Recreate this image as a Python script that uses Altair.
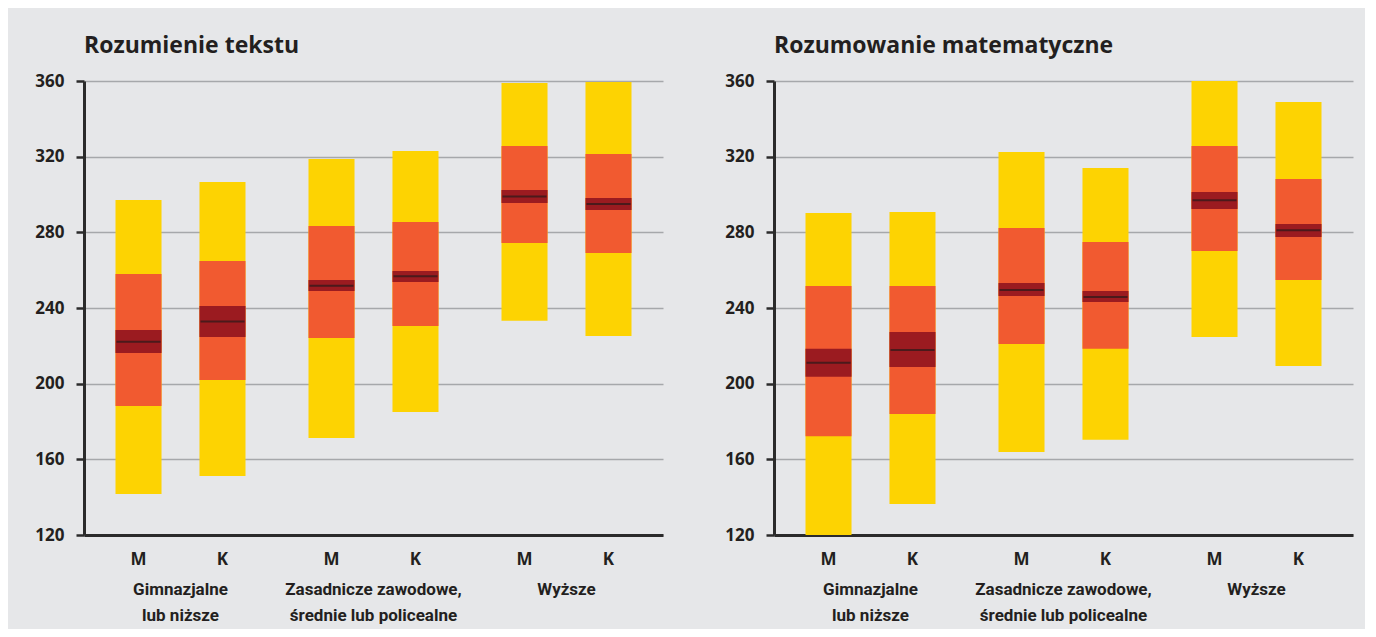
import altair as alt
import pandas as pd

groups = ["Gimnazjalne|lub niższe", "Zasadnicze zawodowe,|średnie lub policealne", "Wyższe"]
sexes = ["M", "K"]
bar_group = [groups[0], groups[0], groups[1], groups[1], groups[2], groups[2]]
bar_sex = ["M", "K", "M", "K", "M", "K"]

# Rozumienie tekstu
read_p5 = [141.7, 151.2, 171.3, 185.0, 233.2, 225.2]
read_p25 = [188.2, 202.0, 224.2, 230.5, 274.4, 269.1]
read_ci_lo = [216.2, 224.7, 249.0, 253.8, 295.5, 291.8]
read_mean = [222.2, 232.8, 251.8, 256.8, 299.0, 295.0]
read_ci_hi = [228.4, 241.1, 254.8, 259.6, 302.4, 298.2]
read_p75 = [258.0, 264.9, 283.4, 285.5, 325.6, 321.4]
read_p95 = [297.1, 306.6, 318.8, 323.0, 358.9, 359.5]

# Rozumowanie matematyczne
math_p5 = [120.0, 136.4, 163.9, 170.3, 224.7, 209.4]
math_p25 = [172.2, 184.0, 221.0, 218.4, 270.1, 254.8]
math_ci_lo = [203.6, 208.8, 246.4, 243.2, 292.3, 277.5]
math_mean = [211.0, 217.8, 249.5, 245.8, 296.9, 281.1]
math_ci_hi = [218.4, 227.3, 253.2, 249.0, 301.3, 284.4]
math_p75 = [251.6, 251.6, 282.3, 274.9, 325.6, 308.2]
math_p95 = [290.2, 290.8, 322.5, 314.0, 360.0, 348.9]

y_ticks = [120, 160, 200, 240, 280, 320, 360]

FONT = "Open Sans"
LABFONT = "Roboto"
YELLOW = "#FDD302"
ORANGE = "#F15A30"
DARKRED = "#9B1B20"
MEANC = "#2a1a1a"
BG = "#E6E7E9"

W, H = 579, 454


def panel(title, p5, p25, cilo, mean, cihi, p75, p95):
    df = pd.DataFrame({
        "group": bar_group, "sex": bar_sex,
        "p5": p5, "p25": p25, "cilo": cilo, "mean": mean,
        "cihi": cihi, "p75": p75, "p95": p95,
    })
    x = alt.X("group:N", sort=groups, title=None,
              scale=alt.Scale(paddingInner=0, paddingOuter=0),
              axis=alt.Axis(labelExpr="split(datum.label, '|')", labelAngle=0,
                            ticks=False, labelPadding=46, labelFontSize=17,
                            labelFont=LABFONT, labelFontWeight="bold",
                            labelColor="#231f20",
                            labelLineHeight=26, grid=False,
                            domainColor="#2b2b2b", domainWidth=3))
    xo = alt.XOffset("sex:N", sort=sexes,
                     scale=alt.Scale(paddingInner=0.452, paddingOuter=0.375))
    yscale = alt.Scale(domain=[120, 360], nice=False, zero=False)
    yaxis = alt.Axis(values=y_ticks, title=None, grid=True, gridColor="#a6a8ab",
                     gridWidth=1.5, domainColor="#2b2b2b", domainWidth=3,
                     tickColor="#2b2b2b", tickWidth=2.5, tickSize=8,
                     labelPadding=12, labelFontSize=17, labelFontWeight="bold",
                     labelFont=FONT, labelColor="#231f20")
    base = alt.Chart(df)
    yellow = base.mark_bar(color=YELLOW).encode(
        x=x, xOffset=xo, y=alt.Y("p5:Q", scale=yscale, axis=yaxis), y2="p95:Q")
    orange = base.mark_bar(color=ORANGE).encode(
        x=x, xOffset=xo, y="p25:Q", y2="p75:Q")
    dark = base.mark_bar(color=DARKRED).encode(
        x=x, xOffset=xo, y="cilo:Q", y2="cihi:Q")
    meanline = base.mark_tick(color=MEANC, thickness=2, size=44).encode(
        x=x, xOffset=xo, y="mean:Q")
    sexlab = base.mark_text(font=FONT, fontSize=17, fontWeight="bold",
                            color="#231f20", baseline="middle").encode(
        x=x, xOffset=xo, y=alt.value(H + 25), text="sex:N")
    return alt.layer(yellow, orange, dark, meanline, sexlab).properties(
        width=W, height=H,
        title=alt.TitleParams(title, anchor="start", frame="group", fontSize=23,
                              fontWeight="bold", font=FONT, color="#231f20",
                              offset=14))


left = panel("Rozumienie tekstu", read_p5, read_p25, read_ci_lo, read_mean,
             read_ci_hi, read_p75, read_p95)
right = panel("Rozumowanie matematyczne", math_p5, math_p25, math_ci_lo, math_mean,
              math_ci_hi, math_p75, math_p95)

chart = alt.hconcat(left, right, spacing=61).properties(
    background=BG, padding={"left": 26, "top": 27, "right": 12, "bottom": 6}
).configure_view(stroke=None).configure_title(font=FONT)

chart.save("out.html", embed_options={"renderer": "svg", "actions": False})
